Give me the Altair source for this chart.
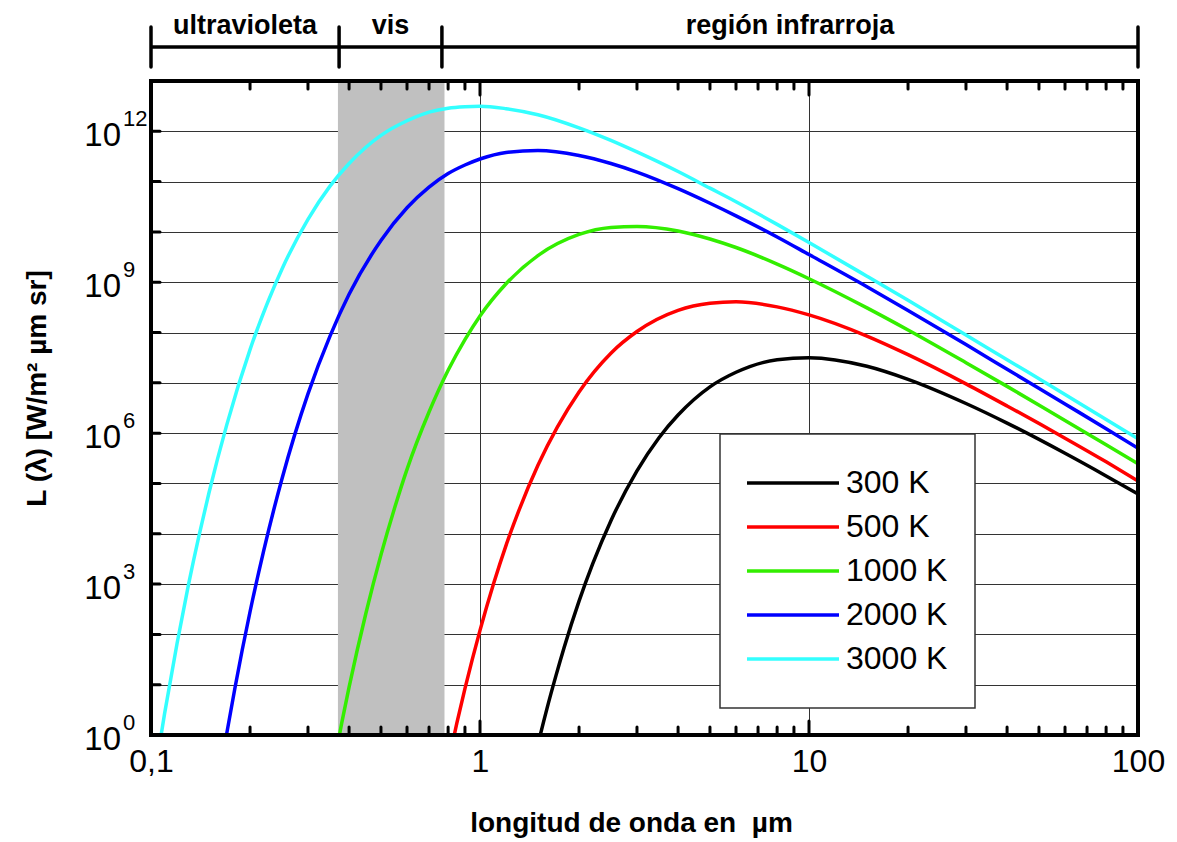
import altair as alt
import pandas as pd

W, H = 987, 654
FONT = "Liberation Sans"

temps = ["300 K", "500 K", "1000 K", "2000 K", "3000 K"]
colors = ["#000000", "#ff0000", "#33ee00", "#0000ff", "#33ffff"]

# wavelength (µm) and log10 of L(λ)
lam_3000 = [0.1, 0.11, 0.12, 0.13, 0.14, 0.15, 0.17, 0.2, 0.25, 0.3, 0.35, 0.4, 0.5, 0.6, 0.7, 0.8, 0.9, 1, 1.2, 1.5, 2, 2.5, 3, 4, 5, 6, 8, 10, 15, 20, 30, 40, 60, 80, 100]
log_3000 = [-1.25, 0.43, 1.82, 2.99, 3.97, 4.81, 6.17, 7.66, 9.26, 10.25, 10.91, 11.36, 11.92, 12.21, 12.38, 12.46, 12.49, 12.50, 12.45, 12.33, 12.07, 11.82, 11.59, 11.20, 10.87, 10.60, 10.15, 9.79, 9.12, 8.64, 7.95, 7.46, 6.77, 6.27, 5.89]

lam_2000 = [0.15, 0.16, 0.17, 0.18, 0.2, 0.22, 0.25, 0.3, 0.35, 0.4, 0.5, 0.6, 0.7, 0.8, 0.9, 1, 1.2, 1.5, 2, 2.5, 3, 4, 5, 6, 8, 10, 15, 20, 30, 40, 60, 80, 100]
log_2000 = [-2.13, -0.97, 0.04, 0.94, 2.45, 3.66, 5.09, 6.78, 7.93, 8.76, 9.83, 10.48, 10.89, 11.16, 11.33, 11.45, 11.58, 11.62, 11.52, 11.36, 11.19, 10.86, 10.57, 10.32, 9.90, 9.55, 8.91, 8.44, 7.76, 7.27, 6.58, 6.09, 5.70]

lam_1000 = [0.35, 0.38, 0.4, 0.45, 0.5, 0.55, 0.6, 0.7, 0.8, 0.9, 1, 1.2, 1.5, 2, 2.5, 3, 4, 5, 6, 8, 10, 15, 20, 30, 40, 60, 80, 100]
log_1000 = [-0.99, 0.24, 0.95, 2.42, 3.58, 4.51, 5.28, 6.42, 7.25, 7.86, 8.33, 8.97, 9.53, 9.95, 10.09, 10.11, 10.02, 9.86, 9.69, 9.36, 9.07, 8.49, 8.05, 7.40, 6.93, 6.25, 5.77, 5.39]

lam_500 = [0.8, 0.85, 0.9, 1, 1.1, 1.2, 1.3, 1.5, 2, 2.5, 3, 4, 5, 6, 8, 10, 15, 20, 30, 40, 60, 80, 100]
log_500 = [-0.56, 0.23, 0.92, 2.08, 3.01, 3.77, 4.39, 5.36, 6.82, 7.59, 8.02, 8.44, 8.58, 8.61, 8.51, 8.35, 7.93, 7.56, 6.98, 6.54, 5.90, 5.43, 5.05]

lam_300 = [1.4, 1.5, 1.6, 1.7, 1.8, 2, 2.2, 2.5, 3, 3.5, 4, 5, 6, 8, 10, 15, 20, 30, 40, 60, 80, 100]
log_300 = [-1.03, -0.19, 0.54, 1.17, 1.73, 2.66, 3.40, 4.26, 5.25, 5.91, 6.36, 6.92, 7.21, 7.46, 7.50, 7.33, 7.07, 6.59, 6.20, 5.60, 5.15, 4.79]

minor_ticks = [0.2, 0.3, 0.4, 0.5, 0.6, 0.7, 0.8, 0.9, 2, 3, 4, 5, 6, 7, 8, 9, 20, 30, 40, 50, 60, 70, 80, 90]
major_ticks = [1, 10]
x_labels = [0.1, 1, 10, 100]
y_decades = [10.0 ** k for k in range(0, 14)]
y_label_exps = [0, 3, 6, 9, 12]

visible_band = [0.37, 0.78]
region_edges = [0.1, 0.373, 0.766, 100]
region_names = ["ultravioleta", "vis", "región infrarroja"]

rows = []
for name, lams, logs in [("300 K", lam_300, log_300), ("500 K", lam_500, log_500),
                         ("1000 K", lam_1000, log_1000), ("2000 K", lam_2000, log_2000),
                         ("3000 K", lam_3000, log_3000)]:
    for l, v in zip(lams, logs):
        rows.append({"T": name, "lam": l, "L": 10.0 ** v})
curves = pd.DataFrame(rows)

xs = alt.Scale(type="log", domain=[0.1, 100], nice=False)
ys = alt.Scale(type="log", domain=[1, 1e13], nice=False)

xaxis = alt.Axis(values=x_labels,
                 labelExpr="datum.value < 0.5 ? '0,1' : format(datum.value, 'd')",
                 labelFontSize=32, labelColor="black", labelPadding=11,
                 labelFlush=False, labelOverlap=False,
                 ticks=False, domain=False, grid=True, gridColor="#333333", gridWidth=1,
                 title="longitud de onda en\u00a0 µm", titleFontSize=28, titleFontWeight="bold",
                 titleColor="black", titleX=480, titleY=96, titleBaseline="alphabetic", titleAlign="center")
yaxis = alt.Axis(values=y_decades, labels=False, ticks=False, domain=False, grid=True,
                 gridColor="#333333", gridWidth=1,
                 title="L (λ) [W/m² µm sr]", titleFontSize=28, titleFontWeight="bold", titleColor="black",
                 titleX=-114, titleY=307, titleAngle=270, titleBaseline="middle", titleAlign="center")

X = lambda f: alt.X(f, scale=xs, axis=xaxis)
Y = lambda f: alt.Y(f, scale=ys, axis=yaxis)

band = alt.Chart(pd.DataFrame({"a": [visible_band[0]], "b": [visible_band[1]]})).mark_rect(
    color="#c0c0c0").encode(
    x=X("a:Q"), x2="b:Q", y=alt.value(0), y2=alt.value(H))

lines = alt.Chart(curves).mark_line(strokeWidth=3.5, clip=True, interpolate="monotone").encode(
    x=X("lam:Q"),
    y=Y("L:Q"),
    color=alt.Color("T:N", scale=alt.Scale(domain=temps, range=colors),
                    legend=alt.Legend(title=None, orient="none", legendX=569, legendY=353,
                                      symbolType="stroke", symbolSize=8649, symbolStrokeWidth=3.5,
                                      clipHeight=44, labelFontSize=32, labelOffset=5, symbolOffset=-3,
                                      padding=27, fillColor="white", strokeColor="#333333",
                                      rowPadding=0, labelLimit=300, labelColor="black")),
)

df_minor = pd.DataFrame({"v": minor_ticks})
df_major = pd.DataFrame({"v": major_ticks})

def xticks(df, y0, y1):
    return alt.Chart(df).mark_rule(color="black", strokeWidth=3, strokeCap="round").encode(
        x=X("v:Q"), y=alt.value(y0), y2=alt.value(y1))

ticks = [xticks(df_minor, H, H - 8), xticks(df_major, H, H - 14),
         xticks(df_minor, 0, 8), xticks(df_major, 0, 14)]

yt = alt.Chart(pd.DataFrame({"v": y_decades[1:-1]})).mark_rule(
    color="black", strokeWidth=3, strokeCap="round").encode(
    y=Y("v:Q"), x=alt.value(0), x2=alt.value(9))

ylab_df = pd.DataFrame({"v": [10.0 ** e for e in y_label_exps], "s": [str(e) for e in y_label_exps]})
ybase = alt.Chart(ylab_df).mark_text(align="right", baseline="middle", fontSize=33, dy=5,
                                     color="black").encode(
    y=Y("v:Q"), x=alt.value(-30), text=alt.value("10"))
yexp = alt.Chart(ylab_df).mark_text(align="left", baseline="alphabetic", fontSize=22, dy=-5,
                                    color="black").encode(
    y=Y("v:Q"), x=alt.value(-28), text="s:N")

frame = alt.Chart(pd.DataFrame({"k": [0]})).mark_rect(filled=False, stroke="black", strokeWidth=4).encode(
    x=alt.value(0), x2=alt.value(W), y=alt.value(0), y2=alt.value(H))

top_line = alt.Chart(pd.DataFrame({"a": [region_edges[0]], "b": [region_edges[-1]]})).mark_rule(
    color="black", strokeWidth=3.5).encode(
    x=X("a:Q"), x2="b:Q", y=alt.value(-34))
top_ticks = alt.Chart(pd.DataFrame({"v": region_edges})).mark_rule(
    color="black", strokeWidth=3.5, strokeCap="round").encode(
    x=X("v:Q"), y=alt.value(-54), y2=alt.value(-14))
centres = [(region_edges[i] * region_edges[i + 1]) ** 0.5 for i in range(3)]
top_text = alt.Chart(pd.DataFrame({"c": centres, "n": region_names})).mark_text(
    fontSize=27, fontWeight="bold", baseline="alphabetic", align="center", color="black").encode(
    x=X("c:Q"), y=alt.value(-47), text="n:N")

chart = alt.layer(band, lines, *ticks, yt, frame, ybase, yexp, top_line, top_ticks, top_text).properties(
    width=W, height=H,
    autosize=alt.AutoSizeParams(type="none"),
    padding={"left": 143, "top": 73, "right": 30, "bottom": 105},
).configure(font=FONT).configure_view(stroke=None).configure_legend(strokeWidth=1.5)

chart.save("out.html", embed_options={"renderer": "svg", "actions": False})
